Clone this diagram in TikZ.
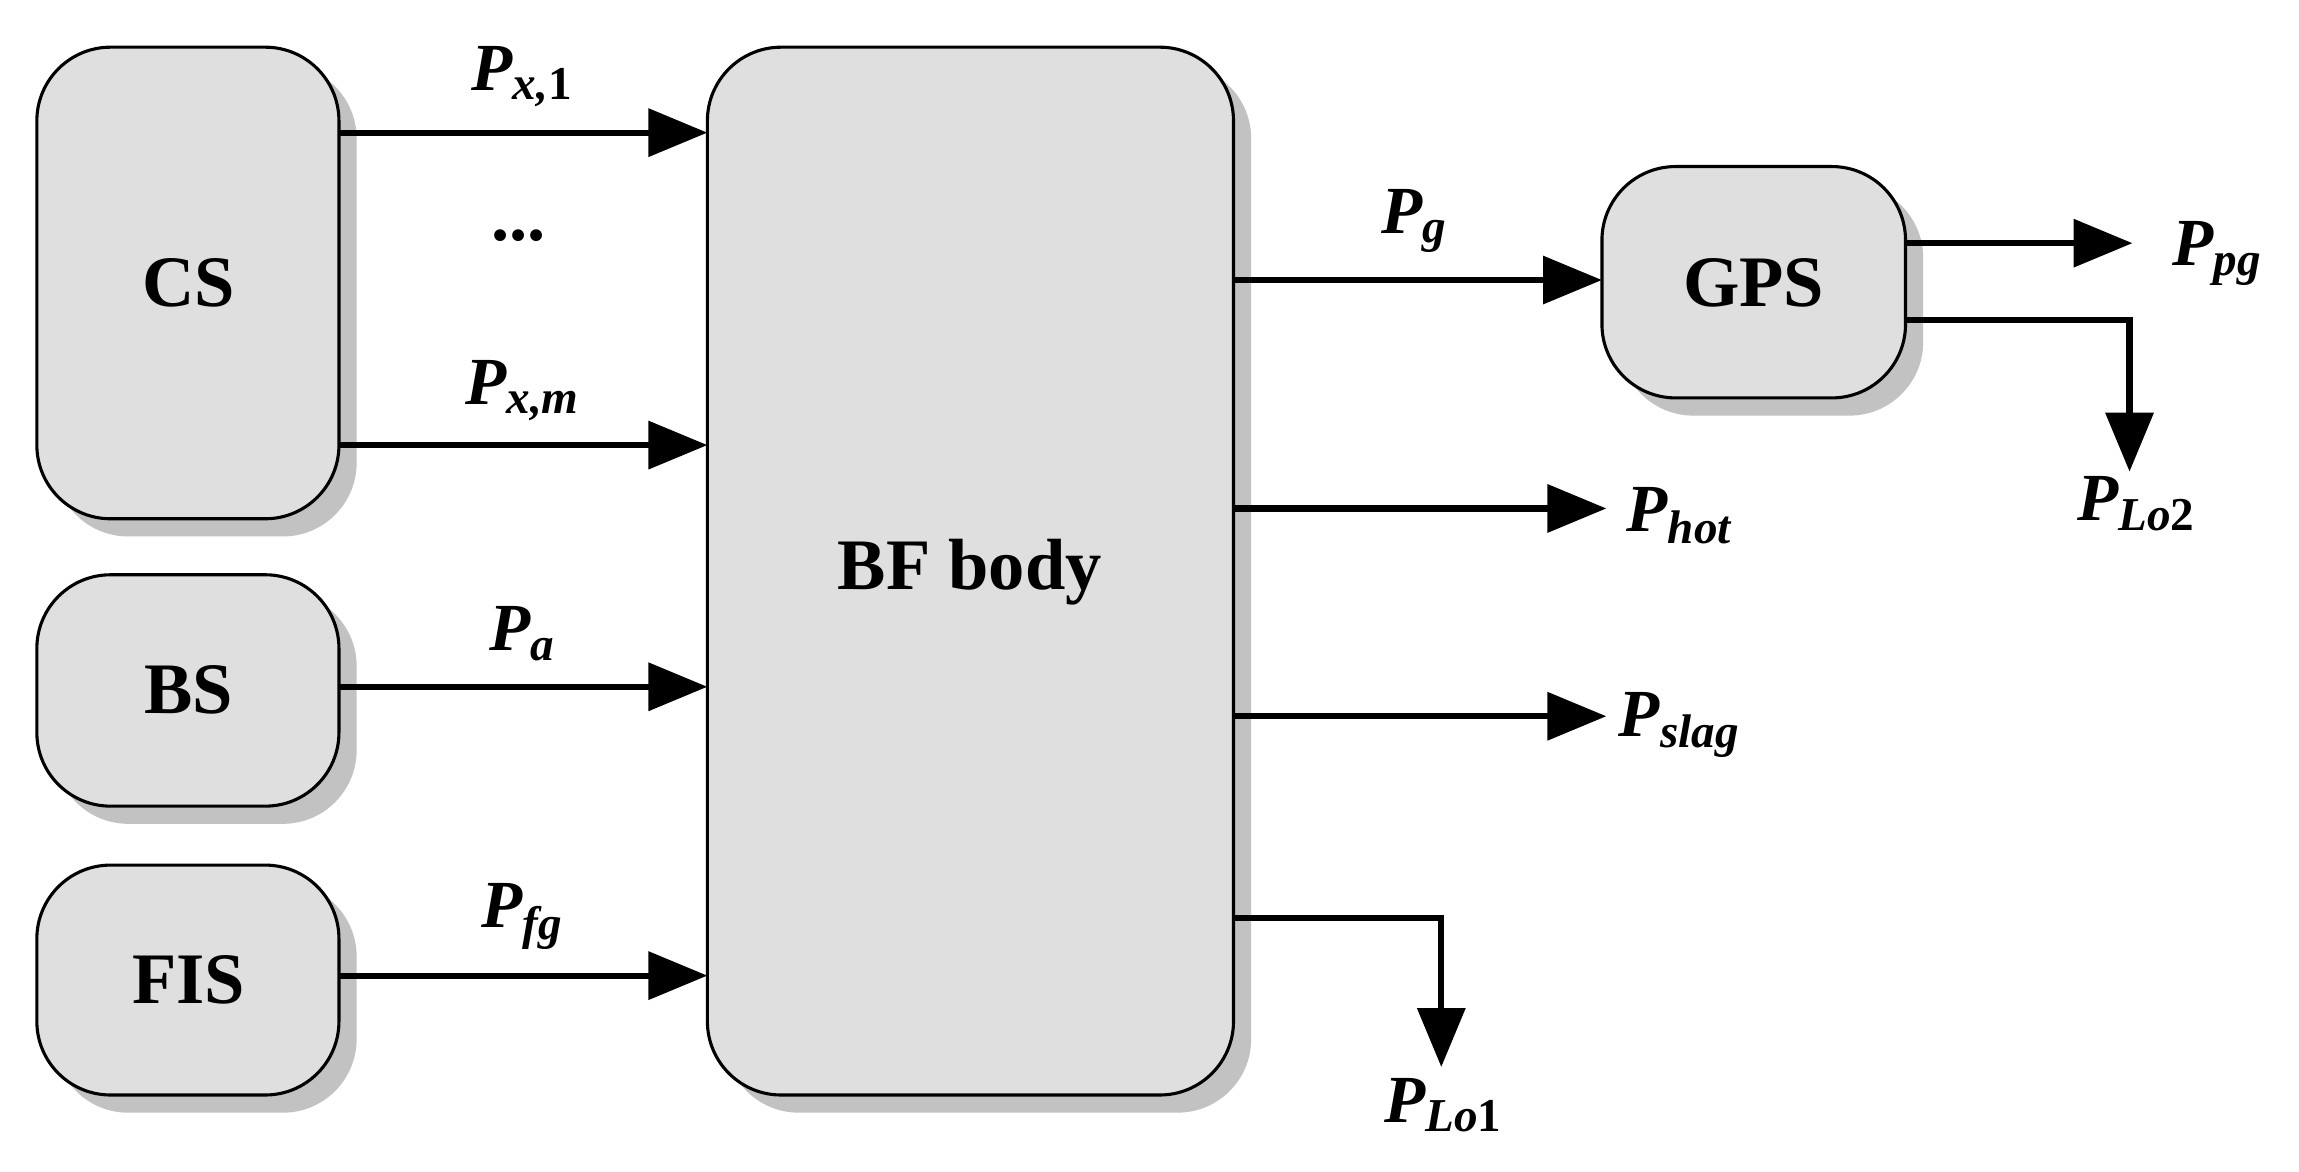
\documentclass[tikz,border=0pt]{standalone}
\usepackage{fontspec}
\setmainfont{Liberation Serif}
\usetikzlibrary{arrows.meta,shadows}
\newcommand{\sbx}[1]{\textsubscript{#1}}
\begin{document}
\begin{tikzpicture}[x=0.1mm,y=-0.1mm,
  blk/.style={draw,line width=0.6pt,fill=gray!25,rounded corners=5mm,drop shadow={shadow xshift=1.2mm,shadow yshift=-1.2mm,fill=black!40,opacity=0.6}},
  arr/.style={line width=1.2pt,-{Triangle[length=4mm,width=3.2mm]}},
  lab/.style={font=\fontsize{13}{15}\selectfont\bfseries\itshape},
  big/.style={font=\fontsize{14}{16}\selectfont\bfseries}]
\useasboundingbox (0,0) rectangle (1560,795);
\draw[blk] (25,32) rectangle (230,352);
\draw[blk] (25,390) rectangle (230,547);
\draw[blk] (25,587) rectangle (230,743);
\draw[blk] (480,32) rectangle (837,743);
\draw[blk] (1087,113) rectangle (1293,270);
\node[big] (cs) at (128,192) {CS};
\node[big] (bs) at (128,468) {BS};
\node[big] (fis) at (128,665) {FIS};
\node[big] (bf) at (658,388) {BF body};
\node[big] (gps) at (1190,192) {GPS};
\coordinate (a1) at (230,90); \coordinate (b1) at (480,90);
\coordinate (a2) at (230,302); \coordinate (b2) at (480,302);
\coordinate (a3) at (230,466); \coordinate (b3) at (480,466);
\coordinate (a4) at (230,662); \coordinate (b4) at (480,662);
\draw[arr] (a1) -- (b1); \draw[arr] (a2) -- (b2);
\draw[arr] (a3) -- (b3); \draw[arr] (a4) -- (b4);
\node[lab] (l1) at (355,52) {P\sbx{x,\upshape1}};
\node[big] (dots) at (352,160) {...};
\node[lab] (l2) at (355,265) {P\sbx{x,m}};
\node[lab] (l3) at (355,430) {P\sbx{a}};
\node[lab] (l4) at (355,622) {P\sbx{fg}};
\coordinate (g1) at (837,190); \coordinate (g2) at (1087,190);
\draw[arr] (g1) -- (g2);
\node[lab] (lg) at (960,150) {P\sbx{g}};
\coordinate (p1) at (1293,165); \coordinate (p2) at (1447,165);
\draw[arr] (p1) -- (p2);
\node[lab] (lpg) at (1505,172) {P\sbx{pg}};
\coordinate (q1) at (1293,217); \coordinate (q2) at (1445,217); \coordinate (q3) at (1445,320);
\draw[arr] (q1) -- (q2) -- (q3);
\node[lab] (llo2) at (1450,342) {P\sbx{Lo\upshape2}};
\coordinate (h1) at (837,345); \coordinate (h2) at (1090,345);
\draw[arr] (h1) -- (h2);
\node[lab] (lhot) at (1140,350) {P\sbx{hot}};
\coordinate (s1) at (837,486); \coordinate (s2) at (1090,486);
\draw[arr] (s1) -- (s2);
\node[lab] (lslag) at (1140,492) {P\sbx{slag}};
\coordinate (o1) at (837,623); \coordinate (o2) at (978,623); \coordinate (o3) at (978,724);
\draw[arr] (o1) -- (o2) -- (o3);
\node[lab] (llo1) at (980,750) {P\sbx{Lo\upshape1}};
\end{tikzpicture}
\end{document}
